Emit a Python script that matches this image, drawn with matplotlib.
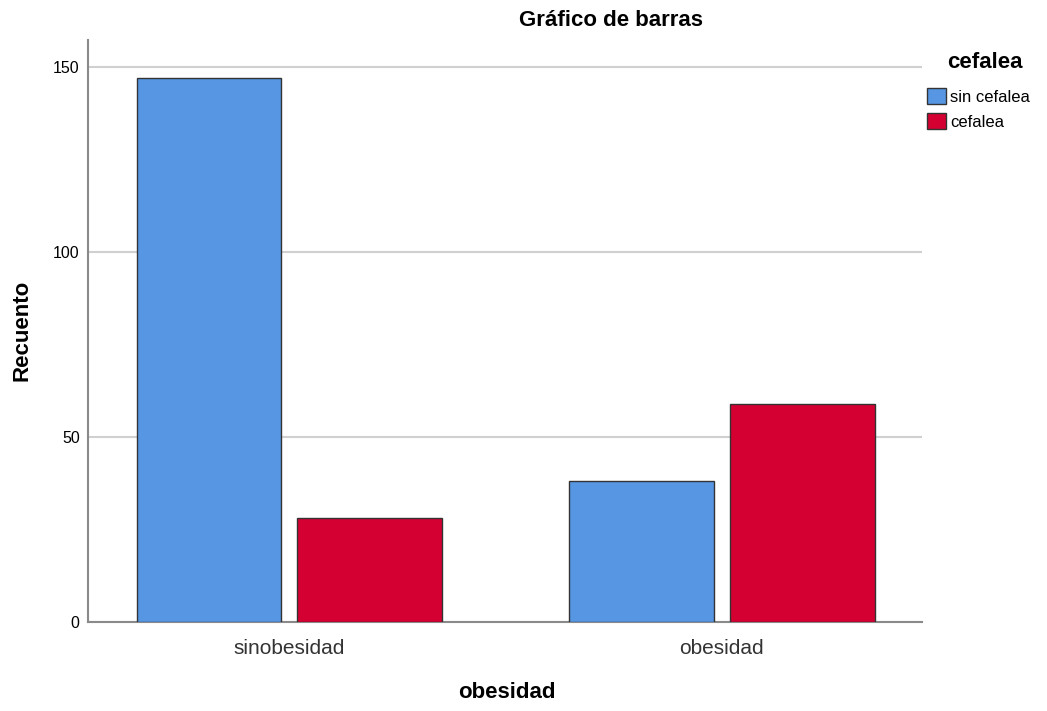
import numpy as np
import matplotlib.pyplot as plt
from matplotlib.patches import Patch

plt.rcParams['font.family'] = ['Liberation Sans', 'DejaVu Sans']

# data
categories = ["sinobesidad", "obesidad"]
series_names = ["sin cefalea", "cefalea"]
sin_cefalea = [147, 38]
cefalea = [28, 59]
yticks = [0, 50, 100, 150]

colors = ["#5796E3", "#D50032"]

fig = plt.figure(figsize=(10.47, 7.11), dpi=100)
ax = fig.add_axes([88 / 1047, 1 - 622 / 711, (922 - 88) / 1047, (622 - 40) / 711])

x = np.arange(len(categories))
w = 0.335
off = 0.186
ax.bar(x - off, sin_cefalea, width=w, color=colors[0], edgecolor="#333333", linewidth=1, zorder=3)
ax.bar(x + off, cefalea, width=w, color=colors[1], edgecolor="#333333", linewidth=1, zorder=3)

ax.set_xlim(-0.466, 1.463)
ax.set_ylim(0, 157.3)
ax.set_yticks(yticks)
ax.set_xticks(x)
ax.set_xticklabels(categories, fontsize=15, color="#333333")
ax.tick_params(axis="y", labelsize=11.5, length=0, pad=6)
ax.tick_params(axis="x", length=0, pad=12)
ax.yaxis.grid(True, color="#d0d0d0", linewidth=1.5, zorder=0)

for s in ["top", "right"]:
    ax.spines[s].set_visible(False)
for s in ["left", "bottom"]:
    ax.spines[s].set_color("#8a8a8a")
    ax.spines[s].set_linewidth(1.5)

fig.text(611 / 1047, 1 - 20 / 711, "Gráfico de barras", ha="center", va="center",
         fontsize=16, fontweight="bold")
fig.text(22 / 1047, 1 - 330 / 711, "Recuento", ha="center", va="center",
         rotation=90, fontsize=16, fontweight="bold")
fig.text(507 / 1047, 1 - 692 / 711, "obesidad", ha="center", va="center",
         fontsize=16, fontweight="bold")

# legend
fig.text(985 / 1047, 1 - 62 / 711, "cefalea", ha="center", va="center",
         fontsize=16, fontweight="bold")
handles = [Patch(facecolor=c, edgecolor="#333333", linewidth=1) for c in colors]
leg = fig.legend(handles, series_names, loc="upper left",
                 bbox_to_anchor=(927 / 1047, 1 - 88 / 711), frameon=False,
                 fontsize=12, borderaxespad=0, borderpad=0,
                 handlelength=1.15, handleheight=1.1, handletextpad=0.25,
                 labelspacing=0.52)

fig.savefig("out.png", dpi=100)
